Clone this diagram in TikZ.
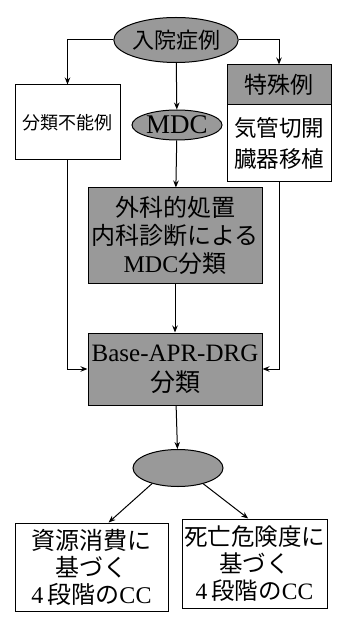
\documentclass[tikz,border=0pt]{standalone}
\usepackage{fontspec}
\setmainfont{Liberation Serif}
\newfontfamily\jp{Noto Sans CJK JP}
\usetikzlibrary{positioning,arrows.meta,shapes.geometric}

\begin{document}
\begin{tikzpicture}[
  x=1pt, y=1pt,
  >={Stealth[length=7pt,width=5.5pt]},
  every node/.style={align=center, line width=1pt},
  oval/.style={draw, ellipse, fill=black!40, inner sep=0pt},
  plain/.style={draw, rectangle, fill=white, inner sep=0pt, font=\jp\fontsize{20}{26}\selectfont},
  shade/.style={draw, rectangle, fill=black!40, inner sep=0pt},
  arr/.style={->, line width=1pt}
]
\useasboundingbox (0,0) rectangle (339,-628);

% top part
\node[oval, minimum width=108, minimum height=45, font=\jp\fontsize{22}{24}\selectfont] (adm) at (176,-40) {入院症例};
\node[plain, minimum width=105, minimum height=75, font=\jp\fontsize{18}{22}\selectfont] (nocls) at (67.5,-122.5) {分類不能例};
\node[shade, minimum width=104, minimum height=40, font=\jp\fontsize{23}{24}\selectfont] (spechead) at (279,-85) {特殊例};
\node[plain, minimum width=104, minimum height=77, font=\jp\fontsize{22.5}{31}\selectfont] (specbody) at (279,-143.5) {気管切開\\臓器移植};
\node[oval, minimum width=90, minimum height=30, font=\fontsize{27}{28}\selectfont] (mdc) at (177,-125) {MDC};

% middle boxes
\node[shade, minimum width=174, minimum height=95, font=\fontsize{24}{28}\selectfont] (surg) at (175,-235.5)
  {{\jp 外科的処置}\\{\jp 内科診断による}\\MDC{\jp 分類}};
\node[shade, minimum width=174, minimum height=72, font=\fontsize{25}{30}\selectfont] (base) at (175,-369)
  {Base-APR-DRG\\{\jp 分類}};

% bottom
\node[oval, minimum width=90, minimum height=37] (cc) at (178,-468) {};
\node[plain, minimum width=153, minimum height=88, font=\fontsize{24}{27}\selectfont] (lbox) at (91.5,-567)
  {{\jp 資源消費に}\\{\jp 基づく}\\4\,{\jp 段階の}CC};
\node[plain, minimum width=145, minimum height=89, font=\fontsize{23.5}{27}\selectfont] (rbox) at (254.5,-563.5)
  {{\jp 死亡危険度に}\\{\jp 基づく}\\4\,{\jp 段階の}CC};

\draw[arr] (adm.west) -| (nocls.north);
\draw[arr] (adm.east) -| (spechead.north);
\draw[arr] (adm) -- (mdc);
\draw[arr] (mdc) -- (surg);
\draw[arr] (surg) -- (base);
\draw[arr] (nocls.south) |- (base.west);
\draw[arr] (specbody.south) |- (base.east);
\draw[arr] (base) -- (cc);
\draw[arr] (cc.211) -- (lbox.69);
\draw[arr] (cc.328) -- (rbox.98);
\end{tikzpicture}
\end{document}
